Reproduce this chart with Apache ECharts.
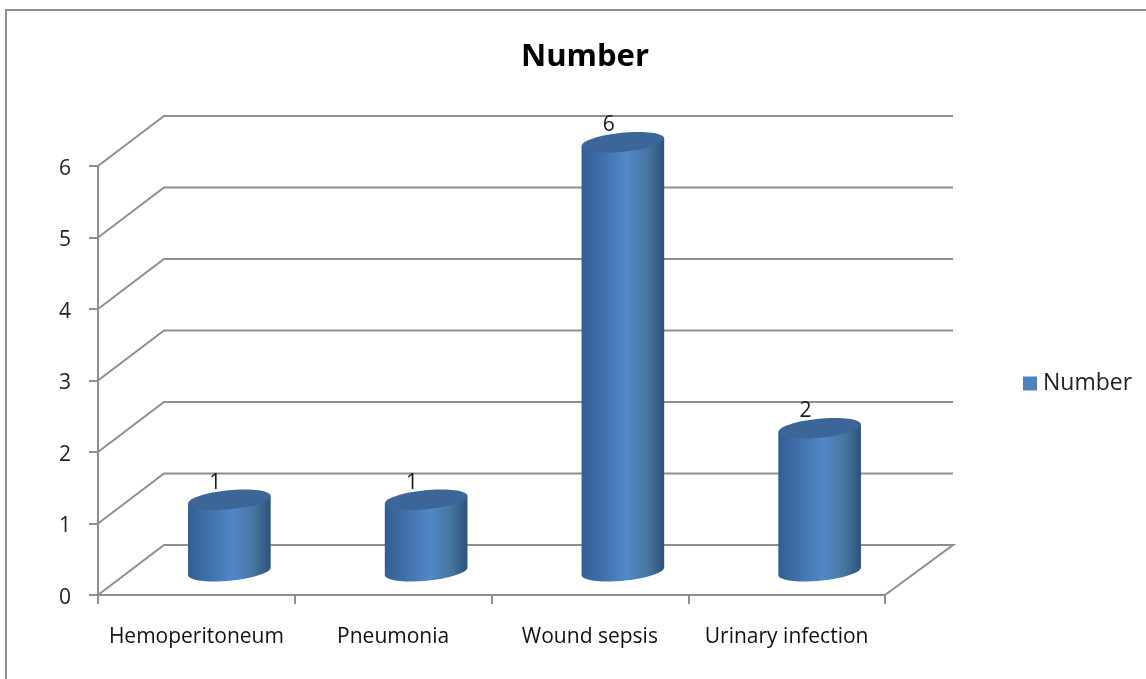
<!DOCTYPE html>
<html>
<head>
<meta charset="utf-8">
<style>html,body{margin:0;padding:0;background:#fff}#c{width:1146px;height:679px}</style>
<script src="https://cdn.jsdelivr.net/npm/echarts@6/dist/echarts.min.js"></script>
</head>
<body>
<div id="c"></div>
<script>
const categories = ['Hemoperitoneum', 'Pneumonia', 'Wound sepsis', 'Urinary infection'];
const values = [1, 1, 6, 2];
const yTicks = [0, 1, 2, 3, 4, 5, 6];
const seriesName = 'Number';

const FONT = '"Open Sans", "Noto Sans", sans-serif';
const LINE = '#8e8e8e';
const DEPTH_X = 66, DEPTH_Y = -50;
const TILT = -5.5 * Math.PI / 180;

function ellipsePt(cx, cy, rx, ry, t) {
  const x = rx * Math.cos(t), y = ry * Math.sin(t);
  return [cx + x * Math.cos(TILT) - y * Math.sin(TILT),
          cy + x * Math.sin(TILT) + y * Math.cos(TILT)];
}

function renderWall(params, api) {
  const r = params.coordSys;
  const v = api.value(0);
  const p = api.coord([0, v]);
  const y = p[1];
  const pts = [[r.x, y], [r.x + DEPTH_X, y + DEPTH_Y], [r.x + r.width + DEPTH_X + 2, y + DEPTH_Y]];
  if (v === 0) pts.push([r.x + r.width, y]);
  return {
    type: 'polyline', silent: true,
    shape: { points: pts },
    style: { stroke: LINE, lineWidth: 2, fill: null }
  };
}

function renderCylinder(params, api) {
  const band = api.size([1, 0])[0];
  const base = api.coord([api.value(0), 0]);
  const top = api.coord([api.value(0), api.value(1)]);
  const cx = base[0] + DEPTH_X * 0.5;
  const off = DEPTH_Y * 0.475;
  const rx = band * 0.211, ry = 9.5;
  const yBot = base[1] + off, yTop = top[1] + off;
  const body = [ellipsePt(cx, yTop, rx, ry, Math.PI), ellipsePt(cx, yTop, rx, ry, 0)];
  const cap = [];
  for (let i = 0; i <= 40; i++) body.push(ellipsePt(cx, yBot, rx, ry, Math.PI * i / 40));
  for (let i = 0; i < 72; i++) cap.push(ellipsePt(cx, yTop, rx, ry, Math.PI * i / 36));
  return {
    type: 'group',
    children: [
      { type: 'polygon', silent: true, shape: { points: body },
        style: { fill: new echarts.graphic.LinearGradient(0, 0, 1, 0, [
          { offset: 0, color: '#325e92' },
          { offset: 0.55, color: '#5287c9' },
          { offset: 0.8, color: '#46769f' },
          { offset: 1, color: '#2d5279' }
        ]) } },
      { type: 'polygon', silent: true, shape: { points: cap },
        style: { fill: '#3c6697' } },
      { type: 'text', silent: true,
        style: { text: String(api.value(1)), x: cx - 14, y: yTop - 17,
          align: 'center', verticalAlign: 'middle',
          font: '21px ' + FONT, fill: '#1a1a1a' } }
    ]
  };
}

const chart = echarts.init(document.getElementById('c'), null, { renderer: 'canvas' });
chart.setOption({
  animation: false,
  backgroundColor: '#ffffff',
  graphic: [{
    type: 'rect', silent: true, z: -1,
    shape: { x: 6, y: 10, width: 1300, height: 900 },
    style: { fill: 'none', stroke: LINE, lineWidth: 2 }
  }],
  title: {
    text: seriesName, left: 580, top: 37, textAlign: 'center',
    textStyle: { fontFamily: FONT, fontWeight: 'bold', fontSize: 31, color: '#000' }
  },
  legend: {
    data: [seriesName], left: 1018, top: 367, icon: 'rect',
    itemWidth: 14, itemHeight: 14, itemGap: 0,
    textStyle: { fontFamily: FONT, fontSize: 23, color: '#222', padding: [0, 0, 0, 1] }
  },
  grid: { left: 98, right: 261, top: 166, bottom: 84, containLabel: false },
  xAxis: {
    type: 'category', data: categories,
    axisLine: { lineStyle: { color: LINE, width: 2 } },
    axisTick: { show: true, length: 9, lineStyle: { color: LINE, width: 2 } },
    axisLabel: { interval: 0, margin: 32, fontFamily: FONT, fontSize: 21, color: '#111' }
  },
  yAxis: {
    type: 'value', min: 0, max: 6, interval: 1,
    axisLine: { show: true, lineStyle: { color: LINE, width: 2 } },
    axisTick: { show: true, length: 9, lineStyle: { color: LINE, width: 2 } },
    axisLabel: {
      margin: 27, formatter: '{s| }{a|{value}}',
      rich: {
        s: { fontSize: 1, height: 30, lineHeight: 30, width: 0 },
        a: { fontFamily: FONT, fontSize: 21, color: '#222', lineHeight: 24, height: 24, verticalAlign: 'bottom' }
      }
    },
    splitLine: { show: false }
  },
  series: [
    {
      type: 'custom', coordinateSystem: 'cartesian2d', z: 1, silent: true,
      data: yTicks.map(v => [v]), encode: { y: 0 }, renderItem: renderWall, clip: false
    },
    {
      name: seriesName, type: 'custom', coordinateSystem: 'cartesian2d', z: 3,
      itemStyle: { color: '#4f81bd' },
      data: values.map((v, i) => [i, v]), encode: { x: 0, y: 1 },
      renderItem: renderCylinder, clip: false
    }
  ]
});
</script>
</body>
</html>
